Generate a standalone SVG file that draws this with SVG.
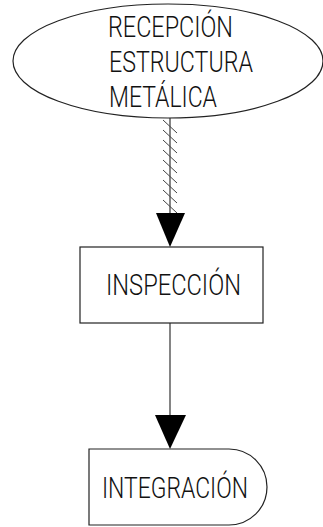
<svg xmlns="http://www.w3.org/2000/svg" width="323" height="527" viewBox="0 0 323 527">
<style>
.shape{fill:#fff;stroke:#222;stroke-width:1.2}
.lbl{font-family:Roboto,"Liberation Sans",Arial,sans-serif;font-weight:300;font-size:30px;fill:#111}
.conn{stroke:#333;stroke-width:1.2;fill:none}
.hatch{stroke:#444;stroke-width:1}
.head{fill:#000}
</style>
<rect width="323" height="527" fill="#fff"/>
<g id="connectors">
<line class="conn" x1="170" y1="118" x2="170" y2="214"/>
<g class="hatch">
<line x1="163" y1="120" x2="177" y2="133"/>
<line x1="163" y1="130" x2="177" y2="143"/>
<line x1="163" y1="140" x2="177" y2="153"/>
<line x1="163" y1="150" x2="177" y2="163"/>
<line x1="163" y1="160" x2="177" y2="173"/>
<line x1="163" y1="170" x2="177" y2="183"/>
<line x1="163" y1="180" x2="177" y2="193"/>
<line x1="163" y1="190" x2="177" y2="203"/>
<line x1="163" y1="200" x2="177" y2="213"/>
</g>
<polygon class="head" points="156,213 185,213 170,247"/>
<line class="conn" x1="170" y1="323" x2="170" y2="416"/>
<polygon class="head" points="155,415 186,415 170,449"/>
</g>
<g id="recepcion">
<ellipse class="shape" cx="168" cy="61" rx="155" ry="57"/>
<text class="lbl" x="108" y="37" textLength="125" lengthAdjust="spacingAndGlyphs">RECEPCIÓN</text>
<text class="lbl" x="109" y="72" textLength="144" lengthAdjust="spacingAndGlyphs">ESTRUCTURA</text>
<text class="lbl" x="109" y="107" textLength="108" lengthAdjust="spacingAndGlyphs">METÁLICA</text>
</g>
<g id="inspeccion">
<rect class="shape" x="80" y="247" width="183" height="76"/>
<text class="lbl" x="106" y="295" textLength="135" lengthAdjust="spacingAndGlyphs">INSPECCIÓN</text>
</g>
<g id="integracion">
<path class="shape" d="M89,449 H229 A38,38 0 0 1 229,525 H89 Z"/>
<text class="lbl" x="102" y="498" textLength="146" lengthAdjust="spacingAndGlyphs">INTEGRACIÓN</text>
</g>
</svg>
